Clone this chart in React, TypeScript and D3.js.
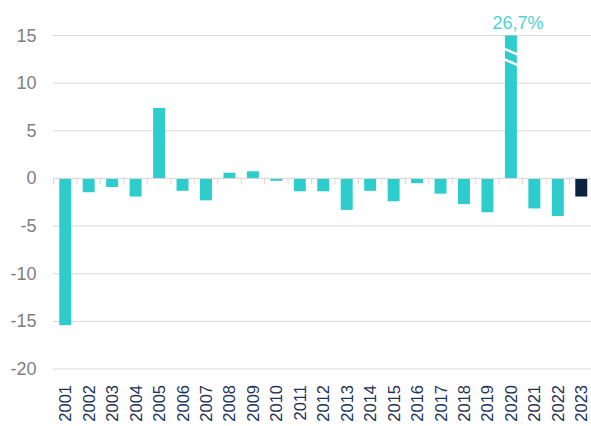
import React from "react";
import * as d3 from "d3";

const years = ["2001","2002","2003","2004","2005","2006","2007","2008","2009","2010","2011","2012","2013","2014","2015","2016","2017","2018","2019","2020","2021","2022","2023"];
const values = [-15.4,-1.45,-0.9,-1.9,7.4,-1.3,-2.3,0.6,0.75,-0.25,-1.35,-1.35,-3.3,-1.3,-2.4,-0.5,-1.6,-2.7,-3.55,26.7,-3.15,-3.95,-1.9];
const yTicks = [15,10,5,0,-5,-10,-15,-20];
const capValue = 15;
const breakYear = "2020";
const breakLabel = "26,7%";
const highlightYear = "2023";

const W = 591, H = 426;

export default function App() {
  const x = d3.scaleBand<string>().domain(years).range([53.5, 593]).paddingInner(0.49).paddingOuter(0.245);
  const y = d3.scaleLinear().domain([-20, 15]).range([369, 35.5]);
  const step = x.step();
  const font = "'Liberation Sans', Arial, sans-serif";
  const bx = x(breakYear)! + x.bandwidth() / 2;
  return (
    <div style={{ position: "absolute", left: 0, top: 0 }}>
      <svg width={W} height={H} style={{ display: "block" }}>
        {yTicks.map((t) => (
          <g key={t}>
            <line x1={53} x2={W} y1={y(t)} y2={y(t)} stroke="#d9d9d9" strokeWidth={1} />
            <text x={36.5} y={y(t)} textAnchor="end" dominantBaseline="central" fontFamily={font} fontSize={18} fill="#808080">{t}</text>
          </g>
        ))}
        {years.map((yr, i) => {
          const v = Math.min(values[i], capValue);
          const y0 = y(0), y1 = y(v);
          return (
            <rect key={yr} x={x(yr)} width={x.bandwidth()} y={Math.min(y0, y1)} height={Math.abs(y1 - y0)}
              fill={yr === highlightYear ? "#0c2340" : "#2dcdcd"} />
          );
        })}
        {d3.range(years.length + 1).map((i) => {
          const tx = 53.5 + i * step;
          return <line key={i} x1={tx} x2={tx} y1={y(0)} y2={y(0) + 6} stroke="#d9d9d9" strokeWidth={1} />;
        })}
        <line x1={53} x2={W} y1={y(0)} y2={y(0)} stroke="#d9d9d9" strokeWidth={1} />
        <line x1={bx - 8} x2={bx + 8} y1={y(13.3) - 3.5} y2={y(13.3) + 3.5} stroke="#ffffff" strokeWidth={2.5} />
        <line x1={bx - 8} x2={bx + 8} y1={y(12.2) - 3.5} y2={y(12.2) + 3.5} stroke="#ffffff" strokeWidth={2.5} />
        <text x={bx + 7} y={29} textAnchor="middle" fontFamily={font} fontSize={18} fill="#4fd3d3">{breakLabel}</text>
        {years.map((yr) => {
          const cx = x(yr)! + x.bandwidth() / 2;
          return (
            <text key={yr} transform={`translate(${cx},385) rotate(-90)`} textAnchor="end" dominantBaseline="central"
              fontFamily={font} fontSize={16.5} fill="#1f3556">{yr}</text>
          );
        })}
      </svg>
    </div>
  );
}
